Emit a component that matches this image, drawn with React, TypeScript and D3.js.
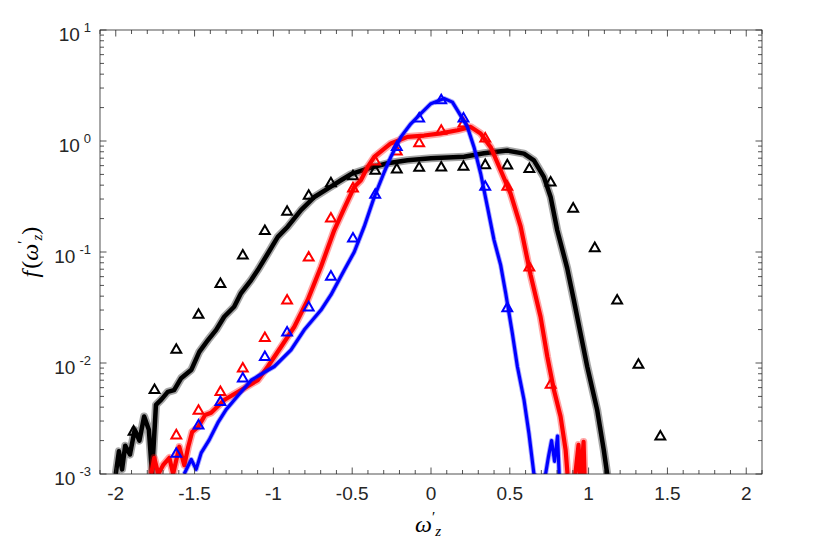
import * as d3 from "d3";

// axis ticks
const xTicks = [-2, -1.5, -1, -0.5, 0, 0.5, 1, 1.5, 2];
const xTickLabels = ["-2", "-1.5", "-1", "-0.5", "0", "0.5", "1", "1.5", "2"];
const yTicks = [1e-3, 1e-2, 1e-1, 1e0, 1e1];
const yTickExponents = ["-3", "-2", "-1", "0", "1"];

// bin centres shared by the triangle markers
const markerX = [
  -1.887, -1.754, -1.616, -1.475, -1.336, -1.194, -1.054, -0.913, -0.776, -0.635,
  -0.495, -0.354, -0.217, -0.075, 0.065, 0.206, 0.344, 0.484, 0.624, 0.759,
  0.902, 1.039, 1.181, 1.316, 1.455,
];
const blackMarkers = [
  2.4e-3, 5.7e-3, 0.0131, 0.0271, 0.0514, 0.0925, 0.154, 0.23, 0.32, 0.414,
  0.48, 0.537, 0.553, 0.572, 0.576, 0.584, 0.604, 0.601, 0.557, 0.421,
  0.245, 0.108, 0.0364, 0.0096, 2.17e-3,
];
const redMarkers = [
  null, null, 2.22e-3, 3.7e-3, 5.46e-3, 8.9e-3, 0.0167, 0.0364, 0.0887, 0.2,
  0.373, 0.65, 0.8, 0.95, 1.23, 1.43, 1.05, 0.386, 0.0724, 6.35e-3,
  null, null, null, null, null,
];
const blueMarkers = [
  null, null, 1.52e-3, 2.72e-3, 4.44e-3, 7.24e-3, 0.0113, 0.0188, 0.0316, 0.0598,
  0.132, 0.327, 0.88, 1.59, 2.32, 1.59, 0.386, 0.0311, null, null,
  null, null, null, null, null,
];

// measured pdf curves [omega, f]
const blackCurve: [number, number][] = [
  [-2.0, 1.0e-3], [-1.98, 1.6e-3], [-1.96, 1.1e-3], [-1.94, 1.8e-3], [-1.91, 1.5e-3],
  [-1.88, 2.5e-3], [-1.85, 2.0e-3], [-1.82, 3.3e-3], [-1.79, 2.5e-3], [-1.77, 1.0e-3],
  [-1.745, 4.2e-3], [-1.71, 4.7e-3], [-1.67, 5.5e-3], [-1.63, 5.7e-3], [-1.585, 7.3e-3],
  [-1.52, 8.7e-3], [-1.47, 0.0126], [-1.415, 0.0161], [-1.363, 0.0199], [-1.312, 0.0261],
  [-1.249, 0.0321], [-1.205, 0.0427], [-1.141, 0.0559], [-1.099, 0.0687], [-1.035, 0.097],
  [-0.972, 0.137], [-0.909, 0.169], [-0.825, 0.238], [-0.74, 0.313], [-0.655, 0.373],
  [-0.571, 0.443], [-0.508, 0.502], [-0.402, 0.565], [-0.275, 0.63], [-0.149, 0.67],
  [0.0, 0.7], [0.21, 0.72], [0.336, 0.775], [0.484, 0.82], [0.59, 0.77],
  [0.653, 0.67], [0.716, 0.475], [0.759, 0.313], [0.801, 0.157], [0.864, 0.0716],
  [0.906, 0.037], [0.991, 9.3e-3], [1.054, 3.8e-3], [1.096, 1.65e-3], [1.118, 1.0e-3],
  [1.13, 5e-4],
];
const redCurve: [number, number][] = [
  [-1.775, 1.0e-3], [-1.756, 1.4e-3], [-1.73, 1.0e-3], [-1.7, 1.2e-3], [-1.66, 1.4e-3],
  [-1.636, 1.0e-3], [-1.597, 1.76e-3], [-1.565, 1.2e-3], [-1.54, 1.76e-3], [-1.515, 2.4e-3],
  [-1.477, 2.66e-3], [-1.433, 3.4e-3], [-1.395, 3.56e-3], [-1.31, 4.66e-3], [-1.205, 5.7e-3],
  [-1.099, 7.0e-3], [-1.035, 9.3e-3], [-0.951, 0.014], [-0.867, 0.0212], [-0.782, 0.037],
  [-0.698, 0.0736], [-0.614, 0.157], [-0.55, 0.248], [-0.487, 0.386], [-0.445, 0.443],
  [-0.402, 0.584], [-0.36, 0.718], [-0.255, 0.95], [-0.149, 1.09], [-0.044, 1.12],
  [0.062, 1.17], [0.168, 1.25], [0.252, 1.34], [0.315, 1.17], [0.379, 0.88],
  [0.442, 0.545], [0.505, 0.336], [0.569, 0.169], [0.632, 0.062], [0.695, 0.0261],
  [0.738, 0.0114], [0.78, 5.7e-3], [0.822, 3.3e-3], [0.854, 1.65e-3], [0.866, 1.0e-3],
  [0.89, 5e-4], [0.916, 1.0e-3], [0.936, 1.83e-3], [0.949, 8e-4], [0.968, 1.95e-3],
  [0.98, 5e-4],
];
const blueCurve: [number, number][] = [
  [-1.566, 1.0e-3], [-1.521, 1.35e-3], [-1.49, 1.1e-3], [-1.458, 1.55e-3], [-1.407, 2.03e-3],
  [-1.352, 2.9e-3], [-1.3, 3.8e-3], [-1.247, 4.66e-3], [-1.141, 7.0e-3], [-1.099, 7.6e-3],
  [-0.994, 9.3e-3], [-0.888, 0.0131], [-0.804, 0.0199], [-0.698, 0.03], [-0.635, 0.041],
  [-0.55, 0.0687], [-0.487, 0.1], [-0.424, 0.169], [-0.36, 0.313], [-0.297, 0.523],
  [-0.255, 0.718], [-0.191, 1.09], [-0.128, 1.43], [-0.065, 1.76], [-0.001, 2.17],
  [0.083, 2.41], [0.136, 2.24], [0.168, 1.89], [0.231, 1.34], [0.273, 0.88],
  [0.315, 0.509], [0.358, 0.255], [0.4, 0.128], [0.442, 0.0762], [0.474, 0.0425],
  [0.516, 0.0185], [0.548, 9.3e-3], [0.59, 4.66e-3], [0.621, 2.34e-3], [0.653, 1.0e-3],
  [0.69, 9e-4], [0.727, 1.0e-3], [0.746, 1.45e-3], [0.765, 2.0e-3], [0.784, 1.3e-3],
  [0.803, 2.2e-3], [0.822, 5e-4],
];

// the measured curves are noisy, so each one is drawn as a soft band plus a core line
const series = [
  { curve: blackCurve, markers: blackMarkers, color: "#000000", width: 4.5, band: 8 },
  { curve: redCurve, markers: redMarkers, color: "#ff0000", width: 4.2, band: 7.5 },
  { curve: blueCurve, markers: blueMarkers, color: "#0000ff", width: 3.2, band: 5 },
];

const W = 830;
const H = 541;
const plot = { left: 100, right: 762, top: 30, bottom: 474 };
const axisColor = "#262626";

export default function App() {
  const x = d3.scaleLinear().domain([-2.1, 2.1]).range([plot.left, plot.right]);
  const y = d3.scaleLog().domain([1e-3, 10]).range([plot.bottom, plot.top]);
  const line = d3
    .line<[number, number]>()
    .x((d) => x(d[0]))
    .y((d) => y(d[1]));
  const tri = d3.symbol().type(d3.symbolTriangle).size(42)();

  const xMinor = d3
    .range(-21, 22)
    .map((i) => i / 10)
    .filter((v) => Math.abs(v * 2 - Math.round(v * 2)) > 1e-6);
  const yMinor: number[] = [];
  for (let k = -3; k < 1; k++) {
    for (let m = 2; m < 10; m++) yMinor.push(m * Math.pow(10, k));
  }

  const major = 6.5;
  const minor = 4;

  return (
    <svg
      width={W}
      height={H}
      style={{ position: "absolute", left: 0, top: 0, background: "#fff" }}
      fontFamily="'Liberation Sans', Arial, Helvetica, sans-serif"
    >
      <defs>
        <clipPath id="plotArea">
          <rect
            x={plot.left}
            y={plot.top}
            width={plot.right - plot.left}
            height={plot.bottom - plot.top}
          />
        </clipPath>
      </defs>

      <g clipPath="url(#plotArea)">
        {series.map((s, i) => (
          <g key={i}>
            <path
              d={line(s.curve) ?? ""}
              fill="none"
              stroke={s.color}
              strokeOpacity={0.35}
              strokeWidth={s.band}
              strokeLinejoin="round"
            />
            <path
              d={line(s.curve) ?? ""}
              fill="none"
              stroke={s.color}
              strokeWidth={s.width}
              strokeLinejoin="round"
            />
            {s.markers.map((v, j) =>
              v == null ? null : (
                <path
                  key={j}
                  d={tri ?? ""}
                  transform={`translate(${x(markerX[j])},${y(v)})`}
                  fill="none"
                  stroke={s.color}
                  strokeWidth={2}
                />
              )
            )}
          </g>
        ))}
      </g>

      {/* box */}
      <rect
        x={plot.left}
        y={plot.top}
        width={plot.right - plot.left}
        height={plot.bottom - plot.top}
        fill="none"
        stroke={axisColor}
        strokeWidth={0.8}
      />

      {/* x ticks, bottom and top; y ticks, left and right */}
      <g stroke={axisColor} strokeWidth={0.8}>
        {xTicks.map((t) => (
          <g key={`xM${t}`}>
            <line x1={x(t)} x2={x(t)} y1={plot.bottom} y2={plot.bottom - major} />
            <line x1={x(t)} x2={x(t)} y1={plot.top} y2={plot.top + major} />
          </g>
        ))}
        {xMinor.map((t) => (
          <g key={`xm${t}`}>
            <line x1={x(t)} x2={x(t)} y1={plot.bottom} y2={plot.bottom - minor} />
            <line x1={x(t)} x2={x(t)} y1={plot.top} y2={plot.top + minor} />
          </g>
        ))}
        {yTicks.map((t) => (
          <g key={`yM${t}`}>
            <line x1={plot.left} x2={plot.left + major} y1={y(t)} y2={y(t)} />
            <line x1={plot.right} x2={plot.right - major} y1={y(t)} y2={y(t)} />
          </g>
        ))}
        {yMinor.map((t) => (
          <g key={`ym${t}`}>
            <line x1={plot.left} x2={plot.left + minor} y1={y(t)} y2={y(t)} />
            <line x1={plot.right} x2={plot.right - minor} y1={y(t)} y2={y(t)} />
          </g>
        ))}
      </g>

      {/* tick labels */}
      <g fill={axisColor} fontSize={19}>
        {xTicks.map((t, i) => (
          <text key={`xl${t}`} x={x(t)} y={plot.bottom + 26} textAnchor="middle">
            {xTickLabels[i]}
          </text>
        ))}
        {yTicks.map((t, i) => (
          <text key={`yl${t}`} x={91} y={y(t) + 11} textAnchor="end">
            <tspan>10</tspan>
            <tspan dx={4} dy={-9} fontSize={13}>
              {yTickExponents[i]}
            </tspan>
          </text>
        ))}
      </g>

      {/* axis labels */}
      <text
        x={428}
        y={532}
        textAnchor="middle"
        fontFamily="'Liberation Serif', 'Times New Roman', serif"
        fontSize={24}
        fill="#000"
      >
        <tspan fontStyle="italic">ω</tspan>
        <tspan fontSize={15} dy={-10}>′</tspan>
        <tspan fontSize={15} fontStyle="italic" dx={0} dy={14}>z</tspan>
      </text>
      <text
        transform="translate(38,252) rotate(-90)"
        textAnchor="middle"
        fontFamily="'Liberation Serif', 'Times New Roman', serif"
        fontSize={24}
        fill="#000"
      >
        <tspan fontStyle="italic">f</tspan>
        <tspan dx={2}>(</tspan>
        <tspan fontStyle="italic">ω</tspan>
        <tspan fontSize={15} dy={-10}>′</tspan>
        <tspan fontSize={15} fontStyle="italic" dx={0} dy={14}>z</tspan>
        <tspan dy={-4}>)</tspan>
      </text>
    </svg>
  );
}
